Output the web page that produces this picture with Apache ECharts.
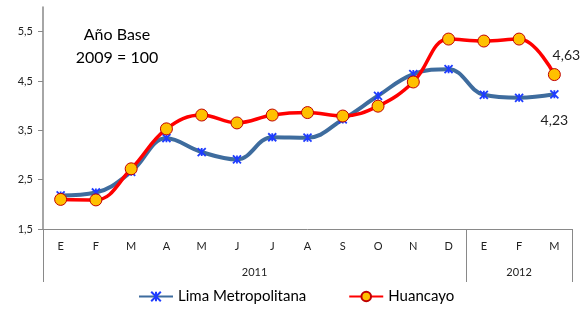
<!DOCTYPE html>
<html>
<head>
<meta charset="utf-8">
<script src="https://cdn.jsdelivr.net/npm/echarts@6/dist/echarts.min.js"></script>
<style>
    html, body { margin: 0; padding: 0; background: #fff; }
    #chart { width: 587px; height: 309px; }
</style>
</head>
<body>
<div id="chart"></div>
<script>
    // datos
    var months = ['E', 'F', 'M', 'A', 'M', 'J', 'J', 'A', 'S', 'O', 'N', 'D', 'E', 'F', 'M'];
    var years = ['2011', '2012'];
    var yearStart = [0, 12, 15];       // limites de cada año (en meses)
    var lima = [2.18, 2.24, 2.66, 3.34, 3.06, 2.91, 3.36, 3.35, 3.72, 4.20, 4.64, 4.74, 4.22, 4.16, 4.23];
    var huancayo = [2.10, 2.09, 2.72, 3.53, 3.81, 3.65, 3.81, 3.86, 3.79, 3.99, 4.48, 5.35, 5.31, 5.35, 4.63];
    var yTicks = [1.5, 2.5, 3.5, 4.5, 5.5];

    var font = 'Lato';
    var grey = '#898989';
    var last = months.length - 1;

    function fmt(v) {
        return String(v).replace('.', ',');
    }

    // centro de cada bloque de año, para poner la etiqueta
    var yearMid = [];
    for (var i = 0; i < years.length; i++) {
        yearMid.push((yearStart[i] + yearStart[i + 1]) / 2);
    }

    var myChart = echarts.init(document.getElementById('chart'));
    var option = {
        animation: false,
        textStyle: {fontFamily: font},
        grid: {left: 43, right: 15, top: 7, bottom: 80},
        graphic: [{
            type: 'text',
            x: 117,
            y: 23,
            style: {
                text: 'Año Base\n2009 = 100',
                font: '16px ' + font,
                fill: '#000',
                align: 'center',
                lineHeight: 23
            }
        }],
        legend: {
            left: 138,
            top: 289,
            padding: 0,
            itemWidth: 34,
            itemHeight: 12,
            itemGap: 42,
            textStyle: {fontSize: 15, color: '#000', fontFamily: font},
            data: ['Lima Metropolitana', 'Huancayo']
        },
        xAxis: [
            {
                type: 'category',
                data: months,
                boundaryGap: true,
                axisLine: {lineStyle: {color: grey, width: 1}},
                axisTick: {show: false},
                axisLabel: {fontSize: 11, color: '#222', margin: 12, interval: 0}
            },
            {
                // separadores y etiquetas de año
                type: 'value',
                position: 'bottom',
                min: 0,
                max: months.length,
                axisLine: {show: false},
                splitLine: {show: false},
                axisTick: {
                    show: true,
                    customValues: yearStart,
                    length: 53,
                    lineStyle: {color: grey, width: 1}
                },
                axisLabel: {
                    customValues: yearMid,
                    fontSize: 11,
                    color: '#222',
                    margin: 38,
                    formatter: function (v) {
                        for (var k = 0; k < yearMid.length; k++) {
                            if (Math.abs(yearMid[k] - v) < 0.01) return years[k];
                        }
                        return '';
                    }
                }
            }
        ],
        yAxis: {
            type: 'value',
            min: 1.5,
            max: 6,
            splitLine: {show: false},
            axisLine: {show: true, lineStyle: {color: grey, width: 1.5}},
            axisTick: {show: true, customValues: yTicks, length: 5, lineStyle: {color: grey}},
            axisLabel: {
                customValues: yTicks,
                fontSize: 11,
                color: '#222',
                margin: 10,
                formatter: function (v) {
                    return fmt(v);
                }
            }
        },
        series: [
            {
                name: 'Lima Metropolitana',
                type: 'line',
                data: lima,
                smooth: 0.4,
                symbol: 'path://M0,0L10,10M10,0L0,10M5,0L5,10',
                symbolSize: 8,
                lineStyle: {color: '#3E6C9E', width: 4},
                itemStyle: {color: '#1E3CFF', borderColor: '#1E3CFF', borderWidth: 1.8},
                label: {
                    show: true,
                    position: 'bottom',
                    distance: 14,
                    fontSize: 14,
                    color: '#222',
                    formatter: function (p) {
                        return p.dataIndex === last ? fmt(p.value) : '';
                    }
                },
                z: 2
            },
            {
                name: 'Huancayo',
                type: 'line',
                data: huancayo,
                smooth: 0.4,
                symbol: 'circle',
                symbolSize: 12,
                lineStyle: {color: '#FF0000', width: 3.5},
                itemStyle: {color: '#FFC000', borderColor: '#C00000', borderWidth: 1},
                label: {
                    show: true,
                    position: 'top',
                    distance: 6,
                    offset: [12, 0],
                    fontSize: 14,
                    color: '#222',
                    formatter: function (p) {
                        return p.dataIndex === last ? fmt(p.value) : '';
                    }
                },
                z: 3
            }
        ]
    };

    myChart.setOption(option);
</script>
</body>
</html>
